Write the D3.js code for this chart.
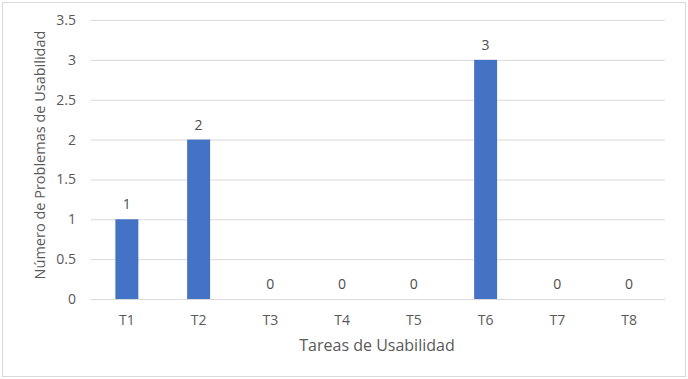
<!DOCTYPE html>
<html><head><meta charset="utf-8">
<script src="https://cdn.jsdelivr.net/npm/d3@7"></script>
<style>body{margin:0;background:#fff}</style>
</head><body><svg id="c" width="688" height="379"></svg>
<script>
const categories = ["T1","T2","T3","T4","T5","T6","T7","T8"];
const values = [1,2,0,0,0,3,0,0];
const yTicks = [0,0.5,1,1.5,2,2.5,3,3.5];
const yTitle = "Número de Problemas de Usabilidad";
const xTitle = "Tareas de Usabilidad";

const svg = d3.select("#c");
const font = "'Open Sans', 'Noto Sans', sans-serif";
svg.append("rect").attr("x",2.5).attr("y",2.5).attr("width",683).attr("height",374)
  .attr("fill","#fff").attr("stroke","#d9d9d9");

const L=91, R=665, T=20, B=299;
const x = d3.scaleBand().domain(categories).range([L,R]).paddingInner(0.68).paddingOuter(0.34);
const y = d3.scaleLinear().domain([0,3.5]).range([B,T]);

const gy = svg.append("g").attr("transform",`translate(${L},0)`)
  .call(d3.axisLeft(y).tickValues(yTicks).tickSize(-(R-L)).tickPadding(15).tickFormat(d=>String(d)));
gy.select(".domain").remove();
gy.selectAll(".tick line").attr("stroke","#d9d9d9");
gy.selectAll(".tick text").attr("fill","#595959").style("font-family",font).style("font-size","14px");

const gx = svg.append("g").attr("transform",`translate(0,${B})`)
  .call(d3.axisBottom(x).tickSize(0).tickPadding(16));
gx.select(".domain").attr("stroke","#d9d9d9");
gx.selectAll(".tick text").attr("fill","#595959").style("font-family",font).style("font-size","14px");

svg.selectAll("rect.bar").data(values).join("rect").attr("class","bar")
  .attr("x",(d,i)=>x(categories[i])).attr("width",x.bandwidth())
  .attr("y",d=>y(d)).attr("height",d=>B-y(d)).attr("fill","#4472c4");

svg.selectAll("text.lbl").data(values).join("text").attr("class","lbl")
  .attr("x",(d,i)=>x(categories[i])+x.bandwidth()/2).attr("y",d=>y(d)-10)
  .attr("text-anchor","middle").attr("fill","#4d4d4d")
  .style("font-family",font).style("font-size","14px").text(d=>d);

svg.append("text").attr("transform",`translate(45,155) rotate(-90)`)
  .attr("text-anchor","middle").attr("fill","#595959")
  .style("font-family",font).style("font-size","14.5px").text(yTitle);
svg.append("text").attr("x",(L+R)/2-1).attr("y",351)
  .attr("text-anchor","middle").attr("fill","#595959")
  .style("font-family",font).style("font-size","16px").text(xTitle);
</script></body></html>
